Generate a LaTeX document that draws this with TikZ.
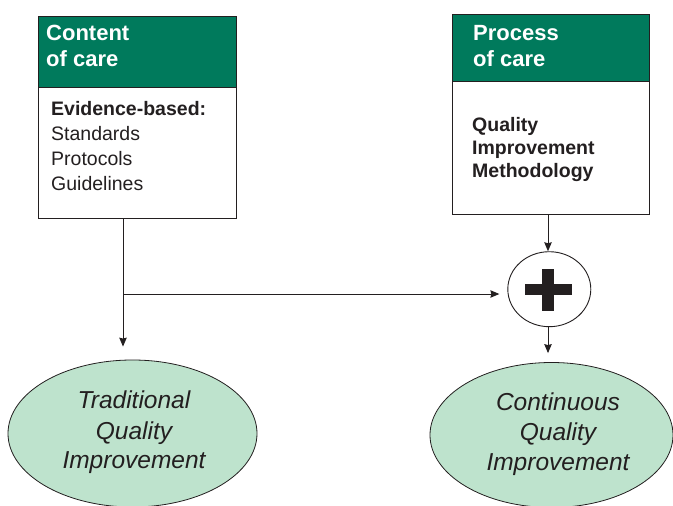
\documentclass[tikz,border=0pt]{standalone}
\usepackage{fontspec}
\setmainfont{Liberation Sans}
\usetikzlibrary{shapes.geometric,arrows.meta,calc}
\definecolor{hdgreen}{HTML}{007A5C}
\definecolor{elgreen}{HTML}{BEE3CD}
\definecolor{ink}{HTML}{231F20}
\begin{document}
\begin{tikzpicture}[x=1pt,y=-1pt,
  headbox/.style={draw=ink, line width=1pt, fill=hdgreen, inner sep=0pt, anchor=north west},
  bodybox/.style={draw=ink, line width=1pt, fill=white, inner sep=0pt, anchor=north west},
  headtxt/.style={text=white, font=\fontsize{22}{26}\selectfont\bfseries, inner sep=0pt, anchor=base west},
  bodytxt/.style={text=ink, font=\fontsize{19.5}{24}\selectfont, inner sep=0pt, anchor=base west},
  ovaltxt/.style={text=ink, font=\fontsize{24.5}{30}\selectfont\itshape, inner sep=0pt, anchor=base},
  oval/.style={ellipse, draw=ink, line width=0.8pt, fill=elgreen, inner sep=0pt},
  conn/.style={draw=ink, line width=0.9pt},
  arr/.style={conn, -{Stealth[length=9pt,width=7.5pt,inset=1pt]}}]
\useasboundingbox (0,0) rectangle (673,506);

% Content of care box
\node[headbox, minimum width=198pt, minimum height=71pt] (chead) at (38,16) {};
\node[bodybox, minimum width=198pt, minimum height=131pt] (cbody) at (38,87) {};
\node[headtxt] (ch1) at (46,40.7) {Content};
\node[headtxt] (ch2) at (46,66.7) {of care};
\node[bodytxt, font=\fontsize{19.5}{24}\selectfont\bfseries] (cb1) at (51,115) {Evidence-based:};
\node[bodytxt] (cb2) at (51,140) {Standards};
\node[bodytxt] (cb3) at (51,165.5) {Protocols};
\node[bodytxt] (cb4) at (51,190.5) {Guidelines};

% Process of care box
\node[headbox, minimum width=197pt, minimum height=67pt] (phead) at (452,14) {};
\node[bodybox, minimum width=197pt, minimum height=133pt] (pbody) at (452,81) {};
\node[headtxt] (ph1) at (473,40.7) {Process};
\node[headtxt] (ph2) at (473,66.7) {of care};
\node[bodytxt, font=\fontsize{19.5}{24}\selectfont\bfseries] (pb1) at (472,131) {Quality};
\node[bodytxt, font=\fontsize{19.5}{24}\selectfont\bfseries] (pb2) at (472,154) {Improvement};
\node[bodytxt, font=\fontsize{19.5}{24}\selectfont\bfseries] (pb3) at (472,177.3) {Methodology};

% plus circle
\node[ellipse, draw=ink, line width=0.9pt, fill=white, minimum width=83pt, minimum height=75pt, inner sep=0pt] (plus) at (549.3,289.2) {};
\fill[ink] ($(plus.center)+(-24.3,-5.5)$) rectangle ($(plus.center)+(22.4,5.8)$);
\fill[ink] ($(plus.center)+(-7.3,-20.2)$) rectangle ($(plus.center)+(4.7,21.8)$);

% ellipses
\node[oval, minimum width=249pt, minimum height=147pt] (tqi) at (132.5,433.5) {};
\node[ovaltxt] (t1) at (134,408) {Traditional};
\node[ovaltxt] (t2) at (134,439) {Quality};
\node[ovaltxt] (t3) at (134,468) {Improvement};

\node[oval, minimum width=243pt, minimum height=145pt] (cqi) at (551.5,435) {};
\node[ovaltxt] (c1) at (558,410) {Continuous};
\node[ovaltxt] (c2) at (558,440) {Quality};
\node[ovaltxt] (c3) at (558,470) {Improvement};

% connectors
\coordinate (lsplit) at (123,294);
\coordinate (rcol) at (548,0);
\draw[arr, shorten >=13pt] (cbody.south -| lsplit) -- (lsplit |- tqi.north);
\draw[arr, shorten >=8pt] (lsplit) -- (lsplit -| plus.west);
\draw[arr] (pbody.south -| rcol) -- (rcol |- plus.north);
\draw[arr, shorten >=9pt] (rcol |- plus.south) -- (rcol |- cqi.north);
\end{tikzpicture}
\end{document}
